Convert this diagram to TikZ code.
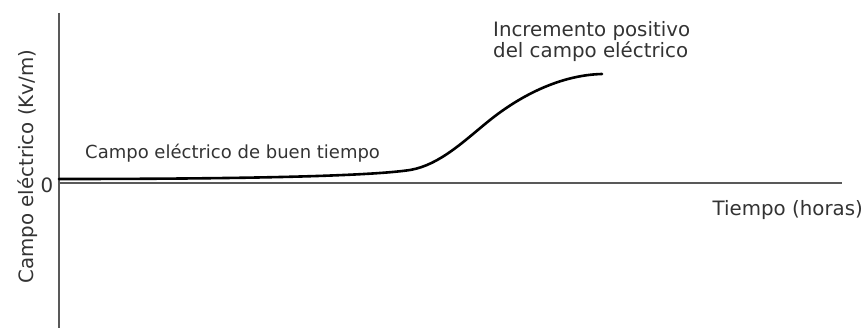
\documentclass[tikz,border=0pt]{standalone}
\usepackage{fontspec}
\setmainfont{DejaVu Sans}
\begin{document}
\begin{tikzpicture}[x=1pt,y=1pt,
  axisline/.style={draw=black!65,line width=2pt},
  curveline/.style={draw=black,line width=2.6pt,line cap=round},
  lbl/.style={font=\fontsize{19.8}{19}\selectfont,text=black!80,inner sep=0pt},
  lblsmall/.style={font=\fontsize{18}{20}\selectfont,text=black!80,inner sep=0pt}]
\useasboundingbox (0,0) rectangle (867,330);
\coordinate (ytop) at (59,317);
\coordinate (ybot) at (59,2);
\coordinate (xl) at (59,147);
\coordinate (xr) at (842,147);
\coordinate (c0) at (59,151);
\coordinate (c1) at (410,160);
\coordinate (c2) at (490,210);
\coordinate (c3) at (602,256);
\draw[axisline] (ytop) -- (ybot);
\draw[axisline] (xl) -- (xr);
\draw[curveline] (c0) .. controls (250,151) and (370,154) .. (c1)
  .. controls (440,165) and (465,190) .. (c2)
  .. controls (520,234) and (560,255) .. (c3);
\node[lbl,rotate=90] (ylab) at (28,163.5) {Campo eléctrico (Kv/m)};
\node[lbl] (zero) at (47,145) {0};
\node[lblsmall,anchor=base west] (buen) at (85,172) {Campo eléctrico de buen tiempo};
\node[lbl,align=left,anchor=north west] (inc) at (493,309) {Incremento positivo\\del campo eléctrico};
\node[lbl,anchor=base east] (tiempo) at (863,115) {Tiempo (horas)};
\end{tikzpicture}
\end{document}
